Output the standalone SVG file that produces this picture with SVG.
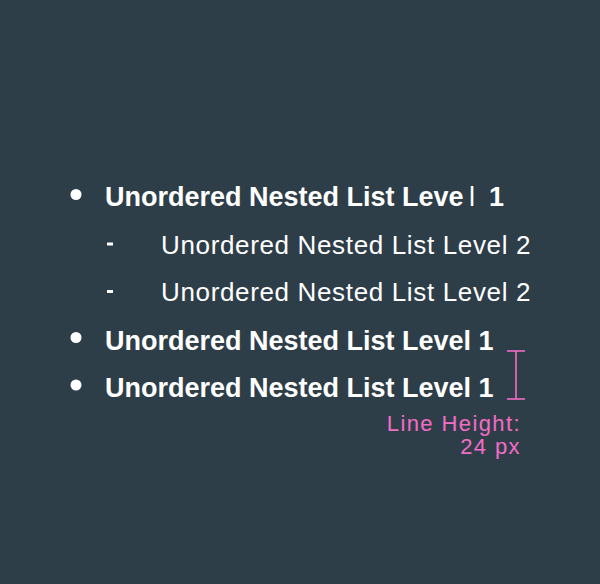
<svg xmlns="http://www.w3.org/2000/svg" width="600" height="584" viewBox="0 0 600 584">
<style>
.l1{font-family:"Liberation Sans",Arial,sans-serif;font-weight:bold;font-size:27px;fill:#ffffff}
.l2{font-family:"Liberation Sans",Arial,sans-serif;font-size:26px;letter-spacing:0.65px;fill:#ffffff}
.thin{font-weight:normal}
.note{font-family:"Liberation Sans",Arial,sans-serif;font-size:22px;letter-spacing:1.4px;fill:#f36cc6;text-anchor:end}
.bul{fill:#ffffff}
</style>
<rect width="600" height="584" fill="#2e3e49"/>
<g id="item1">
<circle class="bul" cx="76" cy="194.5" r="5.5"/>
<text class="l1" x="105" y="206">Unordered Nested List Leve<tspan class="thin" x="469">l</tspan><tspan x="489">1</tspan></text>
</g>
<g id="item2">
<rect class="bul" x="107" y="242.5" width="6" height="3"/>
<text class="l2" x="161" y="253.5">Unordered Nested List Level 2</text>
</g>
<g id="item3">
<rect class="bul" x="107" y="290" width="6" height="3"/>
<text class="l2" x="161" y="301">Unordered Nested List Level 2</text>
</g>
<g id="item4">
<circle class="bul" cx="76" cy="337.5" r="5.5"/>
<text class="l1" x="105" y="350">Unordered Nested List Level 1</text>
</g>
<g id="item5">
<circle class="bul" cx="76" cy="385" r="5.5"/>
<text class="l1" x="105" y="397">Unordered Nested List Level 1</text>
</g>
<g id="connectors">
<g id="line-height-marker" stroke="#f36cc6" stroke-width="1.6" fill="none">
<line x1="507" y1="351" x2="525" y2="351"/>
<line x1="516" y1="351" x2="516" y2="399"/>
<line x1="507" y1="399" x2="525" y2="399"/>
</g>
</g>
<g id="note">
<text class="note" x="521" y="430.5">Line Height:</text>
<text class="note" x="521" y="454">24 px</text>
</g>
</svg>
